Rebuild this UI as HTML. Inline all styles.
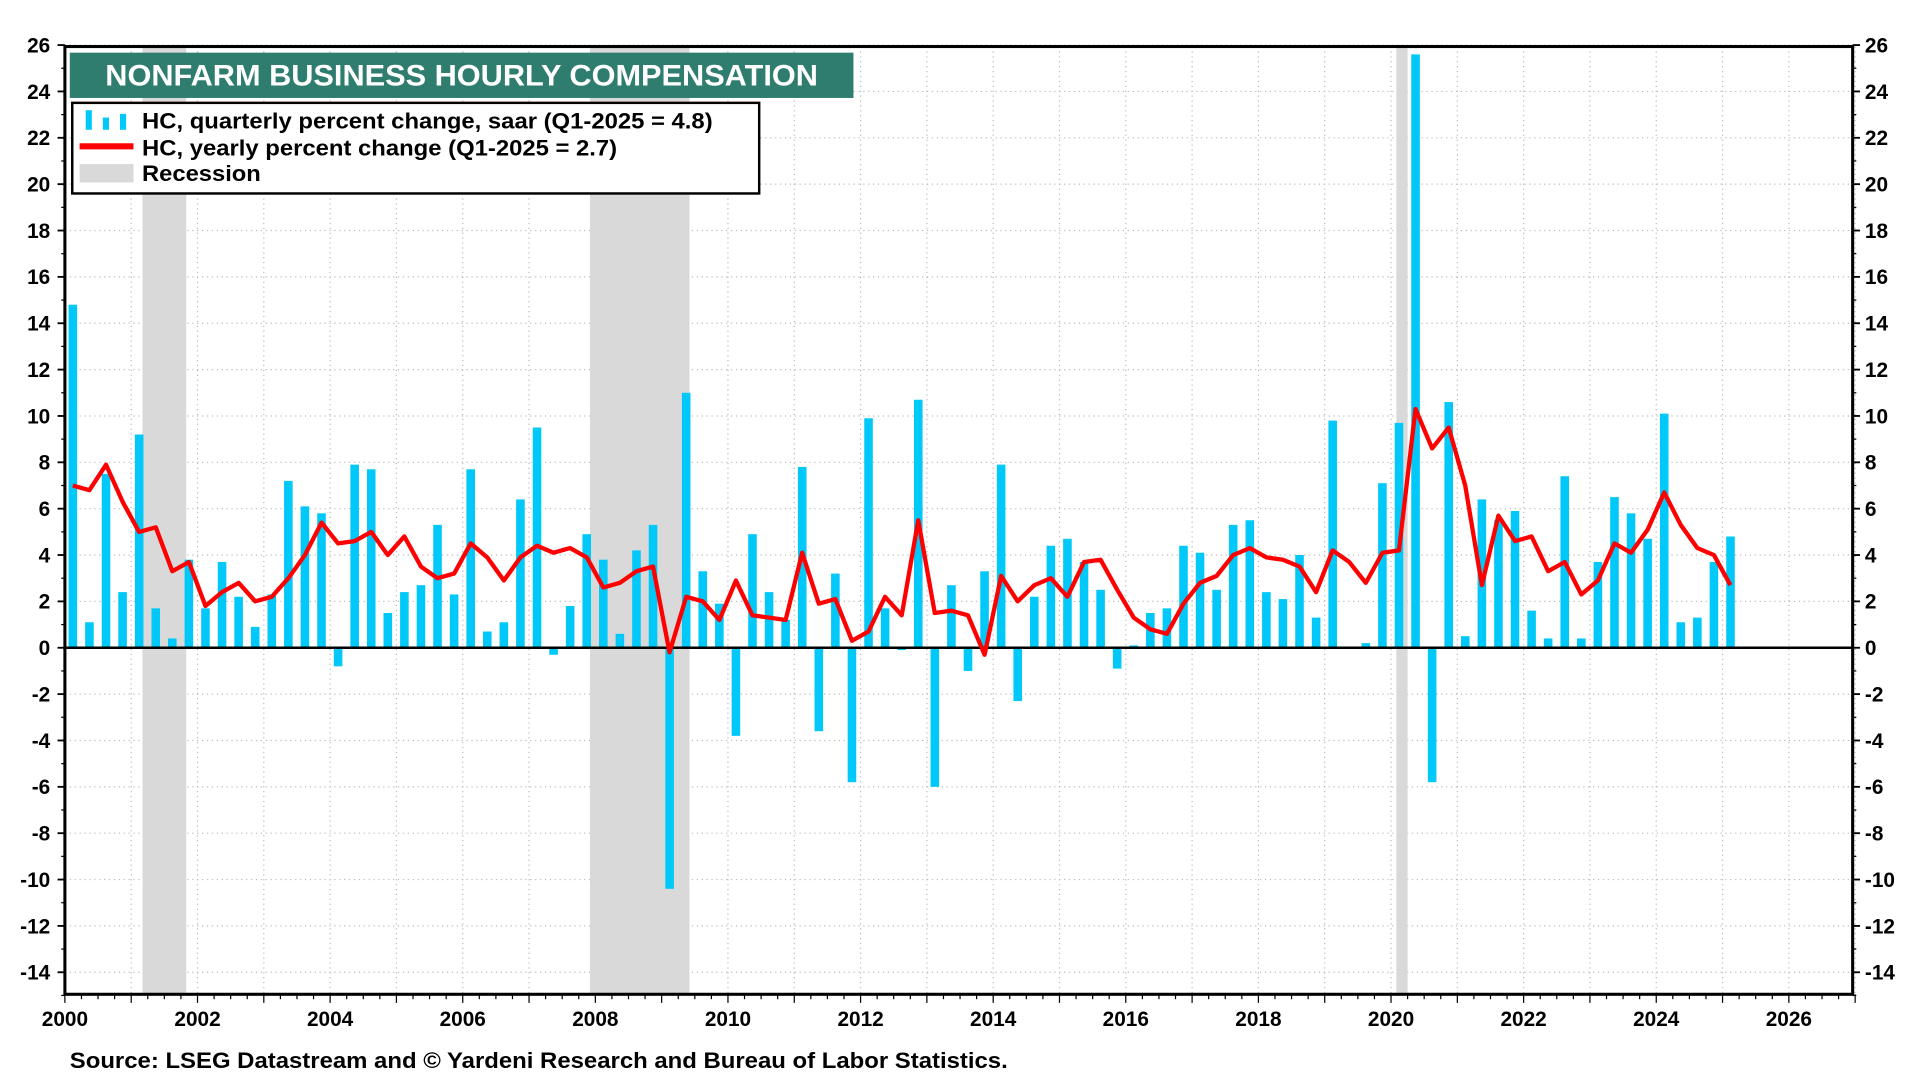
<!DOCTYPE html>
<html><head><meta charset="utf-8"><style>
html,body{margin:0;padding:0;background:#fff;width:1920px;height:1080px;overflow:hidden}
svg text{font-family:"Liberation Sans",Arial,sans-serif;font-weight:bold}
</style></head><body>
<svg id="chart" width="1920" height="1080" viewBox="0 0 1568 882" preserveAspectRatio="none" xmlns="http://www.w3.org/2000/svg">
<g id="grid"></g>
<g id="rec"></g>
<g id="bars"></g>
<g id="axes"></g>
<g id="line"></g>
<rect x="57" y="43" width="640" height="37" fill="#2e7d6e"/>
<text x="86" y="70" font-size="24" fill="#fff" textLength="582" lengthAdjust="spacingAndGlyphs">NONFARM BUSINESS HOURLY COMPENSATION</text>
<g>
<rect x="59" y="84" width="561" height="74" fill="#fff" stroke="#000" stroke-width="2"/>
<rect x="70" y="90" width="5" height="16" fill="#00c8f8"/><rect x="84" y="96" width="5" height="10" fill="#00c8f8"/><rect x="98" y="93" width="5" height="13" fill="#00c8f8"/>
<text x="116" y="105" font-size="18" textLength="466" lengthAdjust="spacingAndGlyphs">HC, quarterly percent change, saar (Q1-2025 = 4.8)</text>
<rect x="65" y="117" width="44" height="5" fill="#f00"/>
<text x="116" y="127" font-size="18" textLength="388" lengthAdjust="spacingAndGlyphs">HC, yearly percent change (Q1-2025 = 2.7)</text>
<rect x="65" y="134" width="44" height="15" fill="#d9d9d9"/>
<text x="116" y="148" font-size="18" textLength="97" lengthAdjust="spacingAndGlyphs">Recession</text>
</g>
<text x="57" y="872" font-size="18" textLength="766" lengthAdjust="spacingAndGlyphs">Source: LSEG Datastream and © Yardeni Research and Bureau of Labor Statistics.</text>
</svg>
<script>
const quarterly=[14.8,1.1,7.5,2.4, 9.2,1.7,0.4,3.8, 1.7,3.7,2.2,0.9, 2.3,7.2,6.1,5.8, -0.8,7.9,7.7,1.5, 2.4,2.7,5.3,2.3, 7.7,0.7,1.1,6.4, 9.5,-0.3,1.8,4.9, 3.8,0.6,4.2,5.3, -10.4,11.0,3.3,1.9, -3.8,4.9,2.4,1.2, 7.8,-3.6,3.2,-5.8, 9.9,1.7,-0.1,10.7, -6.0,2.7,-1.0,3.3, 7.9,-2.3,2.2,4.4, 4.7,3.7,2.5,-0.9, 0.1,1.5,1.7,4.4, 4.1,2.5,5.3,5.5, 2.4,2.1,4.0,1.3, 9.8,0.0,0.2,7.1, 9.7,25.6,-5.8,10.6, 0.5,6.4,5.5,5.9, 1.6,0.4,7.4,0.4, 3.7,6.5,5.8,4.7, 10.1,1.1,1.3,3.7, 4.8];
const yearly=[7.0,6.8,7.9,6.3, 5.0,5.2,3.3,3.7, 1.8,2.4,2.8,2.0, 2.2,3.0,4.0,5.4, 4.5,4.6,5.0,4.0, 4.8,3.5,3.0,3.2, 4.5,3.9,2.9,3.9, 4.4,4.1,4.3,3.9, 2.6,2.8,3.3,3.5, -0.2,2.2,2.0,1.2, 2.9,1.4,1.3,1.2, 4.1,1.9,2.1,0.3, 0.7,2.2,1.4,5.5, 1.5,1.6,1.4,-0.3, 3.1,2.0,2.7,3.0, 2.2,3.7,3.8,2.5, 1.3,0.8,0.6,1.9, 2.8,3.1,4.0,4.3, 3.9,3.8,3.5,2.4, 4.2,3.7,2.8,4.1, 4.2,10.3,8.6,9.5, 7.0,2.7,5.7,4.6, 4.8,3.3,3.7,2.3, 2.9,4.5,4.1,5.1, 6.7,5.3,4.3,4.0, 2.7];
const recessionStarts=[2001.17,2007.92,2020.08];
const recessionEnds=[2001.83,2009.42,2020.25];
const yTicks=[26,24,22,20,18,16,14,12,10,8,6,4,2,0,-2,-4,-6,-8,-10,-12,-14];
const xTicks=[2000,2002,2004,2006,2008,2010,2012,2014,2016,2018,2020,2022,2024,2026];
const startYear=2000;
const NS='http://www.w3.org/2000/svg';
const L=53,R=1513,T=38,B=812;
const xs=v=>L+(v-2000)*54.15;
const ys=v=>529-v*18.93;
function mk(tag,attrs,parent){const e=document.createElementNS(NS,tag);for(const k in attrs)e.setAttribute(k,attrs[k]);parent.appendChild(e);return e;}
const grid=document.getElementById('grid'),axes=document.getElementById('axes');
for(let y=2000;y<=2027;y++){const g=mk('line',{x1:xs(y),x2:xs(y),y1:T,y2:B,stroke:'#bbb','stroke-width':1,'stroke-dasharray':'1,3'},grid);

}
yTicks.forEach(v=>{const g=mk('line',{x1:L,x2:R,y1:ys(v),y2:ys(v),stroke:'#bbb','stroke-width':1,'stroke-dasharray':'1,3'},grid);


const t1=mk('text',{x:L-12,y:ys(v)+6,'font-size':17,'text-anchor':'end'},axes);t1.textContent=v;


const t2=mk('text',{x:R+10,y:ys(v)+6,'font-size':17},axes);t2.textContent=v;


mk('line',{x1:L-6,x2:L,y1:ys(v),y2:ys(v),stroke:'#000','stroke-width':1.5},axes);
mk('line',{x1:R,x2:R+6,y1:ys(v),y2:ys(v),stroke:'#000','stroke-width':1.5},axes);});
for(let v=-15;v<=26;v++){mk('line',{x1:L-3,x2:L,y1:ys(v),y2:ys(v),stroke:'#000'},axes);mk('line',{x1:R,x2:R+3,y1:ys(v),y2:ys(v),stroke:'#000'},axes);}
const rec=document.getElementById('rec');
recessionStarts.forEach((s,i)=>{const r=mk('rect',{x:xs(s),y:T,width:xs(recessionEnds[i])-xs(s),height:B-T,fill:'#d9d9d9'},rec);

});
const bars=document.getElementById('bars');
quarterly.forEach((v,i)=>{const x=xs(startYear+i*0.25+0.12);const y0=ys(0),y1=ys(v);
const r=mk('rect',{x:x-3.5,y:Math.min(y0,y1),width:7,height:Math.max(1,Math.abs(y1-y0)),fill:'#00c8f8'},bars);

});
mk('line',{x1:L,x2:R,y1:ys(0),y2:ys(0),stroke:'#000','stroke-width':2},axes);
mk('rect',{x:L,y:T,width:R-L,height:B-T,fill:'none',stroke:'#000','stroke-width':2.5},axes);
for(let q=0;q<=27*4;q++){const x=xs(2000+q*0.25);mk('line',{x1:x,x2:x,y1:B,y2:B+(q%4==0?7:4),stroke:'#000'},axes);}
xTicks.forEach(y=>{const t=mk('text',{x:xs(y),y:B+26,'font-size':17,'text-anchor':'middle'},axes);t.textContent=y;

});
const pts=yearly.map((v,i)=>xs(startYear+i*0.25+0.12).toFixed(1)+','+ys(v).toFixed(1)).join(' ');
const pl=mk('polyline',{points:pts,fill:'none',stroke:'#f00','stroke-width':3.5,'stroke-linejoin':'round'},document.getElementById('line'));


</script>
</body></html>
